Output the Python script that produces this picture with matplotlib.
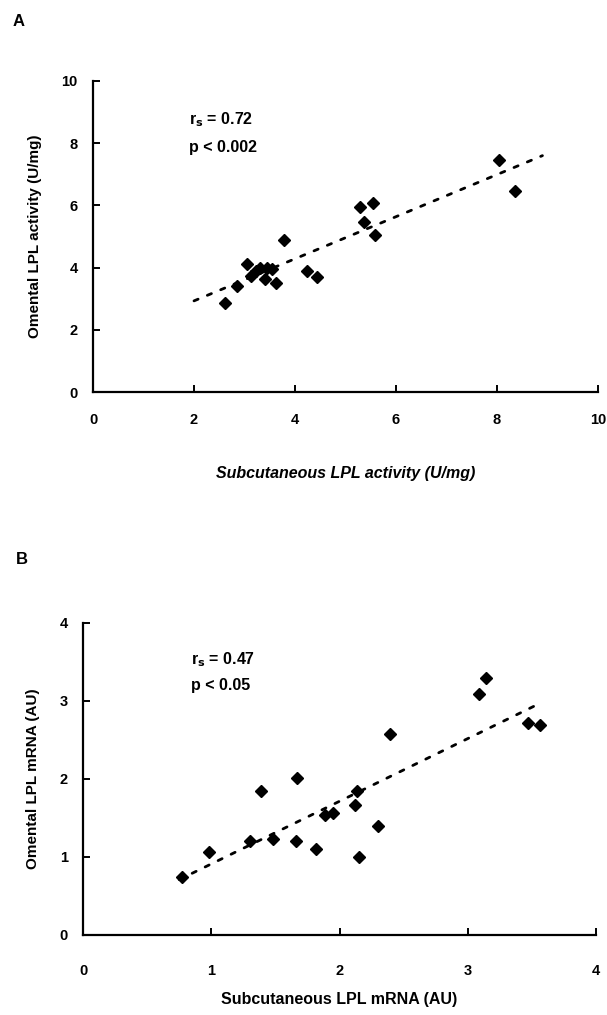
import matplotlib
matplotlib.use("Agg")
import matplotlib.pyplot as plt

plt.rcParams['font.family'] = ['Liberation Sans', 'DejaVu Sans']
plt.rcParams['font.weight'] = 'bold'

# panel A: LPL activity (U/mg)
act_subq = [2.61, 2.86, 3.04, 3.12, 3.22, 3.30, 3.40, 3.45, 3.55, 3.62, 3.78,
            4.23, 4.44, 5.29, 5.37, 5.54, 5.58, 8.03, 8.36]
act_oment = [2.85, 3.42, 4.10, 3.72, 3.88, 3.98, 3.62, 3.98, 3.95, 3.52, 4.89,
             3.89, 3.71, 5.96, 5.48, 6.09, 5.05, 7.47, 6.47]
act_fit_x = [2.0, 8.9]
act_fit_y = [2.93, 7.60]

# panel B: LPL mRNA (AU)
mrna_subq = [0.77, 0.98, 1.30, 1.39, 1.48, 1.66, 1.67, 1.82, 1.89, 1.95,
             2.12, 2.14, 2.15, 2.30, 2.39, 3.09, 3.14, 3.47, 3.56]
mrna_oment = [0.75, 1.07, 1.20, 1.85, 1.23, 1.20, 2.01, 1.10, 1.54, 1.56,
              1.67, 1.84, 1.00, 1.40, 2.58, 3.09, 3.30, 2.72, 2.69]
mrna_fit_x = [0.75, 3.55]
mrna_fit_y = [0.71, 2.96]

W, H = 607, 1015
fig = plt.figure(figsize=(W / 100, H / 100), dpi=100)


def px_axes(x0, x1, ytop, ybot):
    return fig.add_axes([x0 / W, 1 - ybot / H, (x1 - x0) / W, (ybot - ytop) / H])


def style(ax, xmax, ymax, step_x, step_y, xpad):
    for s in ['top', 'right']:
        ax.spines[s].set_visible(False)
    for s in ['left', 'bottom']:
        ax.spines[s].set_linewidth(1.6)
    ax.set_xlim(0, xmax)
    ax.set_ylim(0, ymax)
    ax.set_xticks(range(0, xmax + 1, step_x))
    ax.set_yticks(range(0, ymax + 1, step_y))
    ax.tick_params(axis='x', direction='in', length=5, width=1.4, pad=xpad, labelsize=10.5)
    ax.tick_params(axis='y', direction='in', length=5, width=1.4, pad=11, labelsize=10.5)
    for lab in ax.get_xticklabels() + ax.get_yticklabels():
        lab.set_fontweight('bold')


def draw(ax, xs, ys, fx, fy):
    ax.plot(xs, ys, linestyle='none', marker='D', markersize=6.5, color='black',
            clip_on=False)
    ax.plot(fx, fy, color='black', linewidth=2.0, dashes=(1.6, 3.6),
            dash_capstyle='round')


axA = px_axes(93, 598, 81, 392)
style(axA, 10, 10, 2, 2, 15)
draw(axA, act_subq, act_oment, act_fit_x, act_fit_y)
axA.set_xlabel('Subcutaneous LPL activity (U/mg)', fontsize=11.5, fontweight='bold',
               fontstyle='italic', labelpad=28)
axA.set_ylabel('Omental LPL activity (U/mg)', fontsize=11, fontweight='bold', labelpad=14)
axA.text(1.9, 8.75, r'r$_\mathbf{s}$ = 0.72', fontsize=11.5, fontweight='bold', va='center')
axA.text(1.9, 7.85, 'p < 0.002', fontsize=11.5, fontweight='bold', va='center')

axB = px_axes(83, 596, 623, 935)
style(axB, 4, 4, 1, 1, 21)
draw(axB, mrna_subq, mrna_oment, mrna_fit_x, mrna_fit_y)
axB.set_xlabel('Subcutaneous LPL mRNA (AU)', fontsize=11.5, fontweight='bold', labelpad=10)
axB.set_ylabel('Omental LPL mRNA (AU)', fontsize=11, fontweight='bold', labelpad=14)
axB.text(0.84, 3.53, r'r$_\mathbf{s}$ = 0.47', fontsize=11.5, fontweight='bold', va='center')
axB.text(0.84, 3.2, 'p < 0.05', fontsize=11.5, fontweight='bold', va='center')

fig.text(19 / W, 1 - 21 / H, 'A', fontsize=12, fontweight='bold', ha='center', va='center')
fig.text(22 / W, 1 - 560 / H, 'B', fontsize=12, fontweight='bold', ha='center', va='center')

fig.savefig('out.png', dpi=100, facecolor='white')
